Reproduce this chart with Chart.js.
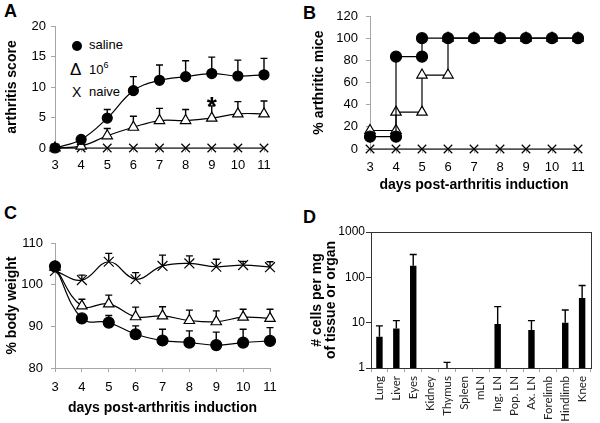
<!DOCTYPE html>
<html>
<head>
<meta charset="utf-8">
<script src="https://cdn.jsdelivr.net/npm/chart.js@4"></script>
<style>
  body { margin:0; width:600px; height:423px; position:relative; overflow:hidden; background:#fff; font-family:"Liberation Sans", Arial, sans-serif; color:#000; }
  canvas { position:absolute; }
  .letter { position:absolute; font-weight:bold; font-size:18px; line-height:18px; }
  .lg { position:absolute; font-size:13px; line-height:15px; }
  .dot { position:absolute; width:10px; height:10px; border-radius:50%; background:#000; }
  sup { font-size:9px; vertical-align:6px; line-height:0; }
</style>
</head>
<body>
<div class="letter" style="left:4px;top:2px">A</div>
<div class="letter" style="left:303px;top:4px">B</div>
<div class="letter" style="left:4px;top:204px">C</div>
<div class="letter" style="left:303px;top:208px">D</div>

<div class="dot" style="left:72px;top:41px"></div>
<div class="lg" style="left:89px;top:37px">saline</div>
<div class="lg" style="left:70px;top:61px;font-size:17px;line-height:17px">&Delta;</div>
<div class="lg" style="left:89px;top:62px">10<sup>6</sup></div>
<div class="lg" style="left:72px;top:85px;font-size:14px">X</div>
<div class="lg" style="left:89px;top:84px">naive</div>

<canvas id="chartA" width="290" height="200" style="left:0;top:0"></canvas>
<canvas id="chartB" width="300" height="200" style="left:300px;top:0"></canvas>
<canvas id="chartC" width="290" height="223" style="left:0;top:200px"></canvas>
<canvas id="chartD" width="300" height="223" style="left:300px;top:200px"></canvas>

<script>
// ---- data ----
const days = [3, 4, 5, 6, 7, 8, 9, 10, 11];

// A: arthritis score
const aSaline     = [0, 1.4, 4.9, 9.4, 11.1, 11.7, 12.2, 11.8, 12.0];
const aSalineErr  = [0, 0, 1.4, 2.3, 2.5, 2.6, 2.7, 2.6, 2.7];
const aCells      = [0, 0.3, 2.0, 3.4, 4.5, 4.5, 4.9, 5.6, 5.6];
const aCellsErr   = [0, 0, 1.2, 1.8, 2.0, 1.8, 2.0, 2.0, 2.1];
const aNaive      = [0, 0, 0, 0, 0, 0, 0, 0, 0];
const starDay = 9;

// B: % arthritic mice (step curves)
const bSalineX = [3, 4, 4, 5, 5, 6, 7, 8, 9, 10, 11];
const bSalineY = [11.1, 11.1, 83.3, 83.3, 100, 100, 100, 100, 100, 100, 100];
const bCellsX  = [3, 4, 4, 5, 5, 6, 6, 7, 8, 9, 10, 11];
const bCellsY  = [16.7, 16.7, 33.3, 33.3, 66.7, 66.7, 100, 100, 100, 100, 100, 100];
const bNaiveY  = [0, 0, 0, 0, 0, 0, 0, 0, 0];

// C: % body weight
const cSaline    = [104.4, 91.9, 90.9, 88.1, 86.6, 86.1, 85.5, 86.1, 86.5];
const cSalineErr = [0, 0, 1.7, 2.0, 2.7, 2.8, 3.1, 3.2, 3.2];
const cCells     = [104.2, 94.9, 95.4, 92.3, 92.5, 91.4, 91.1, 92.2, 91.9];
const cCellsErr  = [0, 1.6, 2.1, 2.3, 2.2, 2.5, 2.6, 1.9, 2.2];
const cNaive     = [103.3, 101.1, 105.5, 101.3, 104.5, 105.1, 104.3, 104.7, 104.2];
const cNaiveErr  = [0, 1.2, 2.0, 1.6, 2.6, 1.8, 1.8, 0.9, 1.3];

// D: cells per mg
const organs  = ['Lung', 'Liver', 'Eyes', 'Kidney', 'Thymus', 'Spleen', 'mLN', 'Ing. LN', 'Pop. LN', 'Ax. LN', 'Forelimb', 'Hindlimb', 'Knee'];
const dCells  = [4.9, 7.4, 180, null, 1, null, null, 9.4, null, 6.9, null, 10, 35];
const dErr    = [3.6, 3.7, 140, 0, 0.33, 0, 0, 13.2, 0, 4.2, 0, 9, 31];

const dLog = [1, 10, 100, 1000];

// ---- shared ----
Chart.defaults.font.family = '"Liberation Sans", Arial, sans-serif';
Chart.defaults.font.size = 13;
Chart.defaults.color = '#000';
const axisGray = '#a6a6a6';

function drawErrors(chart) {
  const { ctx, scales: { y } } = chart;
  chart.data.datasets.forEach((ds, i) => {
    if (!ds.errors) return;
    const meta = chart.getDatasetMeta(i);
    ctx.save();
    ctx.strokeStyle = '#000';
    ctx.lineWidth = 1.4;
    meta.data.forEach((el, j) => {
      const e = ds.errors[j], v = ds.data[j];
      if (!e || v == null) return;
      const y0 = y.getPixelForValue(v), y1 = y.getPixelForValue(v + e);
      ctx.beginPath();
      ctx.moveTo(el.x, y0); ctx.lineTo(el.x, y1);
      ctx.moveTo(el.x - 3.5, y1); ctx.lineTo(el.x + 3.5, y1);
      ctx.stroke();
    });
    ctx.restore();
  });
}
const errorsUnder = { id: 'errorsUnder', beforeDatasetsDraw: drawErrors };
const errorsOver = { id: 'errorsOver', afterDatasetsDraw: drawErrors };

const starPlugin = {
  id: 'star',
  afterDatasetsDraw(chart) {
    const { ctx, scales: { x, y } } = chart;
    const j = days.indexOf(starDay);
    const px = x.getPixelForValue(j);
    const py = y.getPixelForValue(aCells[j] + aCellsErr[j]);
    ctx.save();
    ctx.font = 'bold 26px "Liberation Sans", Arial, sans-serif';
    ctx.textAlign = 'center';
    ctx.textBaseline = 'alphabetic';
    ctx.fillStyle = '#000';
    ctx.fillText('*', px, py + 9);
    ctx.restore();
  }
};

const boxPlugin = {
  id: 'box',
  afterDraw(chart) {
    const { ctx, chartArea: a } = chart;
    ctx.save();
    ctx.strokeStyle = '#333';
    ctx.lineWidth = 1;
    ctx.strokeRect(Math.round(a.left) + 0.5, Math.round(a.top) + 0.5, Math.round(a.right - a.left), Math.round(a.bottom - a.top));
    ctx.restore();
  }
};

function series(data, style, fill, radius, extra) {
  return Object.assign({
    data: data,
    borderColor: '#000',
    borderWidth: 1.2,
    pointStyle: style,
    pointRadius: radius,
    pointBackgroundColor: fill,
    pointBorderColor: '#000',
    pointBorderWidth: 1.2,
    tension: 0.4,
    clip: false
  }, extra || {});
}

function lineX(height, pad, title) {
  const o = {
    grid: { display: true, drawOnChartArea: false, tickLength: 4, color: axisGray },
    border: { color: axisGray },
    ticks: { padding: pad, autoSkip: false, maxRotation: 0 },
    afterFit(s) { s.height = height; }
  };
  if (title) o.title = { display: true, text: title, font: { weight: 'bold', size: 14 }, padding: { top: 0, bottom: 6 } };
  return o;
}
function lineY(width, min, max, step, pad, title, tpad) {
  return {
    min: min, max: max,
    grid: { display: true, drawOnChartArea: false, tickLength: 4, color: axisGray },
    border: { color: axisGray },
    ticks: { stepSize: step, padding: pad },
    title: { display: true, text: title, font: { weight: 'bold', size: 14 }, padding: { top: tpad, bottom: 0 } },
    afterFit(s) { s.width = width; }
  };
}
const common = {
  responsive: false,
  animation: false,
  devicePixelRatio: 1,
  plugins: { legend: { display: false }, tooltip: { enabled: false } }
};

// ---- A ----
new Chart(document.getElementById('chartA'), {
  type: 'line',
  data: {
    labels: days,
    datasets: [
      series(aSaline, 'circle', '#000', 5, { errors: aSalineErr }),
      series(aCells, 'triangle', '#fff', 6, { errors: aCellsErr }),
      series(aNaive, 'crossRot', '#000', 6)
    ]
  },
  options: Object.assign({}, common, {
    layout: { padding: { left: 0, top: 26, right: 26, bottom: 0 } },
    scales: {
      x: lineX(52, 6),
      y: lineY(55, 0, 20, 5, 5, 'arthritis score', 4)
    }
  }),
  plugins: [errorsUnder, starPlugin]
});

// ---- B ----
const toXY = (xs, ys) => xs.map((x, i) => ({ x: x, y: ys[i] }));
new Chart(document.getElementById('chartB'), {
  type: 'line',
  data: {
    datasets: [
      series(toXY(bSalineX, bSalineY), 'circle', '#000', 5.5, { tension: 0 }),
      series(toXY(bCellsX, bCellsY), 'triangle', '#fff', 6, { tension: 0 }),
      series(toXY(days, bNaiveY), 'crossRot', '#000', 6, { tension: 0 })
    ]
  },
  options: Object.assign({}, common, {
    layout: { padding: { left: 0, top: 16, right: 22, bottom: 0 } },
    scales: {
      x: Object.assign(lineX(51, 7, 'days post-arthritis induction'), { type: 'linear', min: 3, max: 11, ticks: { stepSize: 1, padding: 7 } }),
      y: lineY(70, 0, 120, 20, 8, '% arthritic mice', 11)
    }
  })
});

// ---- C ----
new Chart(document.getElementById('chartC'), {
  type: 'line',
  data: {
    labels: days,
    datasets: [
      series(cSaline, 'circle', '#000', 5.5, { errors: cSalineErr }),
      series(cCells, 'triangle', '#fff', 6, { errors: cCellsErr }),
      series(cNaive, 'crossRot', '#000', 7, { errors: cNaiveErr })
    ]
  },
  options: Object.assign({}, common, {
    layout: { padding: { left: 0, top: 43, right: 20, bottom: 0 } },
    scales: {
      x: lineX(55, 8, 'days post-arthritis induction'),
      y: lineY(55, 80, 110, 10, 8, '% body weight', 4)
    }
  }),
  plugins: [errorsUnder]
});

// ---- D ----
new Chart(document.getElementById('chartD'), {
  type: 'bar',
  data: {
    labels: organs,
    datasets: [{
      data: dCells,
      errors: dErr,
      backgroundColor: '#000',
      barPercentage: 0.38,
      categoryPercentage: 1
    }]
  },
  options: Object.assign({}, common, {
    layout: { padding: { left: 0, top: 32, right: 2, bottom: 0 } },
    scales: {
      x: {
        grid: { display: true, drawOnChartArea: false, tickLength: 4, color: axisGray },
        border: { color: '#333' },
        ticks: { minRotation: 90, maxRotation: 90, autoSkip: false, padding: 4, color: '#222', font: { family: 'Lato', size: 11.5 } },
        afterFit(s) { s.height = 55; }
      },
      y: {
        type: 'logarithmic',
        min: 1, max: 1000,
        grid: { display: true, drawOnChartArea: false, tickLength: 5, color: '#333' },
        border: { color: '#333' },
        ticks: { padding: 1, font: { size: 12 }, callback: v => String(v) },
        afterBuildTicks(s) { s.ticks = dLog.map(v => ({ value: v })); },
        title: { display: true, text: ['# cells per mg', 'of tissue or organ'], font: { weight: 'bold', size: 14, lineHeight: 1.0 }, padding: { top: 10, bottom: 0 } },
        afterFit(s) { s.width = 71; }
      }
    }
  }),
  plugins: [errorsOver, boxPlugin]
});
</script>
</body>
</html>
